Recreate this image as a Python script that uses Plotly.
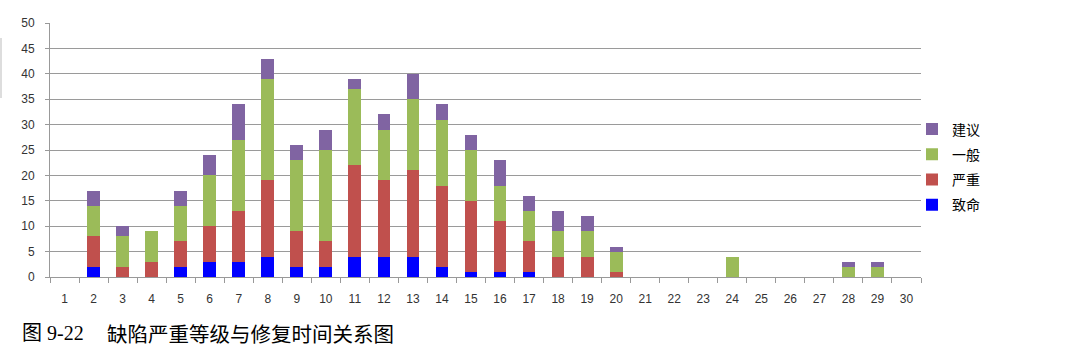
import plotly.graph_objects as go

categories = [str(i) for i in range(1, 31)]
y_ticks = [0, 5, 10, 15, 20, 25, 30, 35, 40, 45, 50]

fatal = [0, 2, 0, 0, 2, 3, 3, 4, 2, 2, 4, 4, 4, 2, 1, 1, 1, 0, 0, 0, 0, 0, 0, 0, 0, 0, 0, 0, 0, 0]
severe = [0, 6, 2, 3, 5, 7, 10, 15, 7, 5, 18, 15, 17, 16, 14, 10, 6, 4, 4, 1, 0, 0, 0, 0, 0, 0, 0, 0, 0, 0]
general = [0, 6, 6, 6, 7, 10, 14, 20, 14, 18, 15, 10, 14, 13, 10, 7, 6, 5, 5, 4, 0, 0, 0, 4, 0, 0, 0, 2, 2, 0]
suggest = [0, 3, 2, 0, 3, 4, 7, 4, 3, 4, 2, 3, 5, 3, 3, 5, 3, 4, 3, 1, 0, 0, 0, 0, 0, 0, 0, 1, 1, 0]

series = [
    ("致命", fatal, "#0000FF"),
    ("严重", severe, "#C0504D"),
    ("一般", general, "#9BBB59"),
    ("建议", suggest, "#8064A2"),
]

fig = go.Figure()
n = len(series)
for i, (name, vals, color) in enumerate(series):
    fig.add_trace(go.Bar(
        x=categories, y=vals, name=name, legendgroup=name,
        legendrank=1000 + (n - i),
        marker=dict(color=color, line=dict(width=0)),
    ))

L, R, T, B = 50, 163, 23, 83
W, H = 1084, 360
pw = W - L - R
ph = H - T - B

def px_x(px):
    return (px - L) / pw

def px_y(py):
    return (H - B - py) / ph

fig.update_layout(
    width=W, height=H,
    margin=dict(l=L, r=R, t=T, b=B, pad=0),
    barmode="stack",
    bargap=0.56,
    plot_bgcolor="white",
    paper_bgcolor="white",
    font=dict(family="Liberation Sans, Arial, sans-serif", size=12, color="#333333"),
    showlegend=True,
    legend=dict(
        traceorder="grouped",
        tracegroupgap=4,
        x=px_x(912), xanchor="left",
        y=px_y(167), yanchor="middle",
        font=dict(family="Noto Sans CJK SC", size=14, color="#000000"),
        bgcolor="rgba(0,0,0,0)",
        itemwidth=30,
    ),
    xaxis=dict(
        type="category",
        categoryorder="array", categoryarray=categories,
        showgrid=False,
        showline=True, linecolor="#999999", linewidth=1,
        ticks="outside", tickson="boundaries", ticklen=5, tickcolor="#999999",
        ticklabelstandoff=11,
        tickfont=dict(size=12, color="#333333"),
    ),
    yaxis=dict(
        range=[0, 50],
        tickvals=y_ticks,
        showgrid=True, gridcolor="#9a9a9a", gridwidth=1,
        showline=True, linecolor="#999999", linewidth=1,
        ticks="outside", ticklen=4, tickcolor="#999999",
        ticklabelstandoff=8,
        tickfont=dict(size=12, color="#333333"),
        zeroline=False,
    ),
    shapes=[
        dict(type="line", xref="paper", yref="paper",
             x0=px_x(1), x1=px_x(1), y0=px_y(38), y1=px_y(98),
             line=dict(color="#bbbbbb", width=1)),
    ],
    annotations=[
        dict(text="图 9-22", xref="paper", yref="paper",
             x=px_x(20), xanchor="left", y=px_y(333), yanchor="middle",
             showarrow=False,
             font=dict(family="Liberation Serif, Noto Sans CJK SC", size=20, color="#000000")),
        dict(text="缺陷严重等级与修复时间关系图", xref="paper", yref="paper",
             x=px_x(105), xanchor="left", y=px_y(333), yanchor="middle",
             showarrow=False,
             font=dict(family="Noto Sans CJK SC", size=20.5, color="#000000")),
    ],
)

fig.write_html("out.html")
